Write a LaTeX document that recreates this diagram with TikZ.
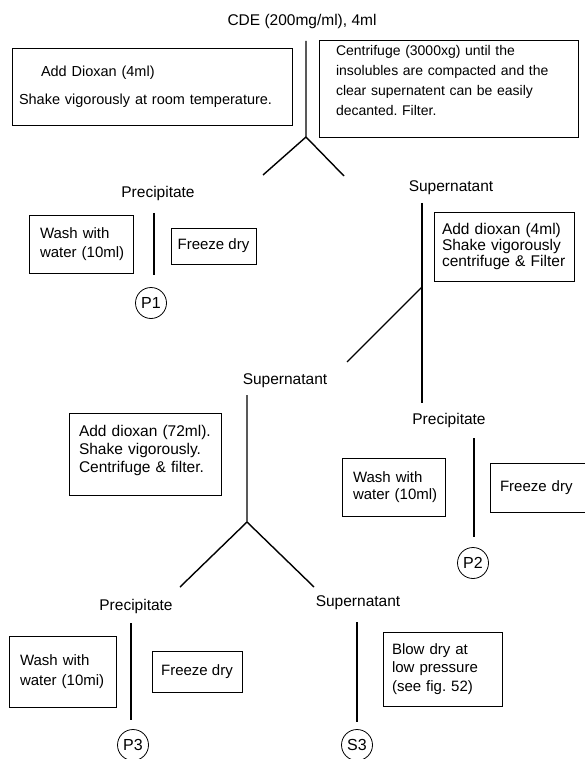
\documentclass[tikz,border=0pt]{standalone}
\usepackage{fontspec}
\setmainfont{Liberation Sans}
\frenchspacing
\begin{document}
\begin{tikzpicture}[x=1pt,y=-1pt,
  box/.style={draw, line width=0.75pt, inner ysep=0pt, align=left,
              font=\fontsize{15}{20}\selectfont},
  cbox/.style={draw, line width=0.75pt, inner sep=0pt, align=center,
              font=\fontsize{15}{18}\selectfont},
  lbl/.style={inner sep=0pt, font=\fontsize{15.5}{18}\selectfont},
  tag/.style={draw, circle, line width=0.8pt, minimum size=31pt, inner sep=0pt,
              font=\fontsize{16}{18}\selectfont},
  flow/.style={line width=1.4pt}]
\clip (0,0) rectangle (585,759);
\useasboundingbox (0,0) rectangle (585,759);

% ---------- top ----------
\node[lbl] (cde) at (302,21) {CDE (200mg/ml), 4ml};
\coordinate (t0) at (306,41);
\coordinate (a0) at (306,137);
\coordinate (y0l) at (263,175);
\coordinate (y0r) at (344,176);
\draw[flow] (t0) -- (a0) -- (y0l);
\draw[flow] (a0) -- (y0r);

\node[box, minimum width=280, minimum height=77, text width=266, inner xsep=7,
      font=\fontsize{14.5}{18}\selectfont] (b0l) at (152,86.5)
  {\hspace{22pt}Add Dioxan (4ml)\\[10pt]Shake~vigorously~at~room~temperature.};
\node[box, minimum width=259, minimum height=97, text width=225, inner xsep=17,
      text depth=76pt, font=\fontsize{14}{20}\selectfont] (b0r) at (448.5,88.5)
  {Centrifuge (3000xg) until the\\insolubles are compacted and the\\clear supernatent can be easily\\decanted. Filter.};

\node[lbl] (prec1) at (158,193) {Precipitate};
\node[lbl] (sup1) at (451,188) {Supernatant};

% ---------- P1 branch ----------
\coordinate (p1t) at (154,213);
\coordinate (p1b) at (154,275);
\draw[flow] (p1t) -- (p1b);
\node[box, minimum width=104, minimum height=58, text width=82, inner xsep=11,
      font=\fontsize{15}{19}\selectfont] (w1) at (81,244)
  {Wash~with\\water~(10ml)};
\node[cbox, minimum width=85, minimum height=36] (f1) at (213.5,246) {Freeze dry};
\node[tag] (p1) at (151,303) {P1};

% ---------- right branch ----------
\coordinate (s1t) at (422,203);
\coordinate (s1m) at (422,287);
\coordinate (s1b) at (422,403);
\coordinate (d1) at (347,362);
\draw[flow] (s1t) -- (s1b);
\draw[flow] (s1m) -- (d1);
\node[box, minimum width=140, minimum height=69, text width=124, inner xsep=8,
      font=\fontsize{15.5}{15.7}\selectfont] (a2) at (504,246.5)
  {Add~dioxan~(4ml)\\Shake~vigorously\\centrifuge~\&~Filter};

\node[lbl] (sup2) at (285,381) {Supernatant};
\node[lbl] (prec2) at (449,420) {Precipitate};

% ---------- P2 branch ----------
\coordinate (p2t) at (474,438);
\coordinate (p2b) at (474,537);
\draw[flow] (p2t) -- (p2b);
\node[box, minimum width=103, minimum height=58, text width=81, inner xsep=11,
      font=\fontsize{15}{17}\selectfont] (w2) at (393.5,487)
  {Wash~with\\water~(10ml)};
\node[box, minimum width=100, minimum height=49, text width=80, inner xsep=10] (f2) at (540,487.5)
  {Freeze~dry};
\node[tag] (p2) at (473,563) {P2};

% ---------- middle split ----------
\coordinate (s2t) at (247,395);
\coordinate (a1) at (247,522);
\coordinate (y1l) at (180,587);
\coordinate (y1r) at (314,587);
\draw[flow] (s2t) -- (a1) -- (y1l);
\draw[flow] (a1) -- (y1r);
\node[box, minimum width=152, minimum height=82, text width=132, inner xsep=10,
      text depth=46pt, font=\fontsize{15.5}{18}\selectfont] (a3) at (145,454)
  {Add~dioxan~(72ml).\\Shake~vigorously.\\Centrifuge~\&~filter.};

\node[lbl] (prec3) at (136,606) {Precipitate};
\node[lbl] (sup3) at (358,603) {Supernatant};

% ---------- P3 branch ----------
\coordinate (p3t) at (131,623);
\coordinate (p3b) at (131,720);
\draw[flow] (p3t) -- (p3b);
\node[box, minimum width=107, minimum height=71, text width=85, inner xsep=11] (w3) at (62.5,671.5)
  {Wash~with\\water~(10mi)};
\node[cbox, minimum width=90, minimum height=41] (f3) at (197,671.5) {Freeze dry};
\node[tag] (p3) at (133,745) {P3};

% ---------- S3 branch ----------
\coordinate (s3t) at (357,622);
\coordinate (s3b) at (357,722);
\draw[flow] (s3t) -- (s3b);
\node[box, minimum width=119, minimum height=74, text width=101, inner xsep=9,
      font=\fontsize{15}{18.5}\selectfont] (bd) at (442.5,669)
  {Blow~dry~at\\low~pressure\\(see~fig.~52)};
\node[tag] (s3) at (357,745) {S3};
\end{tikzpicture}
\end{document}
